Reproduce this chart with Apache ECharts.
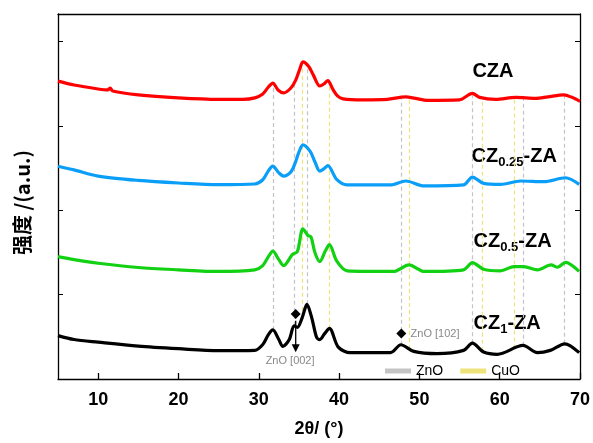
<!DOCTYPE html>
<html>
<head>
<meta charset="utf-8">
<script src="https://cdn.jsdelivr.net/npm/echarts@6/dist/echarts.min.js"></script>
<style>
  html, body { margin: 0; padding: 0; background: #fff; }
  #chart { width: 593px; height: 443px; }
</style>
</head>
<body>
<div id="chart"></div>
<script>
// 2θ / intensity (a.u., offset stacked) pairs
const cza = [
  [5, 302], [7, 298], [10, 294], [11.2, 293], [11.5, 295], [11.8, 292], [15, 288], [20, 285], [25, 283.5],
  [28, 283.5], [29.5, 285], [30.5, 289], [31.2, 296], [31.75, 300], [32.4, 293], [33.1, 290], [34, 295],
  [34.6, 303], [35.1, 314], [35.5, 321.5], [36.2, 317], [36.8, 308], [37.6, 297], [38.1, 299], [38.6, 302.5],
  [39.2, 294], [39.8, 287], [40.5, 284], [43, 283], [46, 283.5], [48.3, 286], [49.5, 284.5], [51, 282.5],
  [55, 283], [56.6, 289.5], [57.5, 285.5], [59.5, 283.5], [62, 285.5], [64.5, 284.5], [66, 286], [68, 288],
  [69, 285.5], [70, 281.5]
];
const cz025 = [
  [5, 215.7], [7, 212], [10, 205.7], [15, 201.3], [20, 198.7], [25, 197], [29.5, 197.7], [30.5, 202],
  [31.2, 211], [31.75, 215.7], [32.5, 209], [33.1, 205.7], [34, 210], [34.5, 218.3], [35.0, 230], [35.5, 237.3],
  [36.4, 230.7], [37, 220], [37.6, 210.7], [38.1, 213], [38.6, 216.3], [39.7, 202.3], [41, 196.7], [46.4, 196.7],
  [48.3, 200.7], [50.6, 195.7], [55.5, 196.7], [56.6, 204.7], [58, 198.3], [60.1, 197.3], [62.6, 200.7],
  [65.5, 200], [68.2, 204], [69.9, 197.3]
];
const cz05 = [
  [5, 124], [7, 121], [10, 117.3], [15, 113], [20, 110.7], [25, 109], [29.5, 110.7], [30.5, 115], [31.2, 124],
  [31.75, 129.7], [32.5, 121], [33.1, 115], [34.2, 126.3], [34.8, 129], [35.5, 152.3], [36.1, 145.7],
  [36.5, 144], [37, 128], [37.6, 119], [38.3, 130], [38.8, 136.3], [39.7, 119.7], [41, 109.7], [46.8, 109],
  [48.7, 115.7], [50.6, 109], [55.5, 110.7], [56.6, 118], [58, 111.3], [60.1, 109.7], [61.8, 114], [63, 114],
  [64.7, 110.7], [66.4, 115.7], [67.2, 113.3], [68.2, 118.3], [69.9, 109]
];
const cz1 = [
  [5, 44], [7, 40], [10, 37.3], [15, 33.3], [20, 30.7], [25, 28.7], [29.5, 29], [30.5, 35], [31.2, 45],
  [31.75, 49.7], [32.5, 40], [33.0, 33], [33.8, 40], [34.4, 54], [34.8, 52.3], [35.4, 62], [36.0, 75.7],
  [36.6, 62], [37.2, 42.3], [37.6, 40], [38.2, 46], [38.8, 51.3], [39.9, 32.3], [41.4, 26.7], [46.4, 26.7],
  [47.7, 34.7], [49.3, 28], [52.2, 25.7], [55.5, 29], [56.6, 36.3], [58, 27.3], [59.7, 25], [62.9, 34],
  [64.7, 26.7], [66.3, 29], [68.1, 35.7], [69.9, 26.7]
];

// reference peak positions (2θ)
const znoRefs = [31.75, 34.4, 36.0, 47.7, 56.6, 62.95, 68.1];
const cuoRefs = [35.4, 38.75, 48.75, 57.8, 61.8];

const xTicks = [10, 20, 30, 40, 50, 60, 70];

const chart = echarts.init(document.getElementById("chart"));

// 线性插值，求参考线两端
const interp = (arr, x) => {
  for (let i = 0; i < arr.length - 1; i++) {
    if (x >= arr[i][0] && x <= arr[i + 1][0]) {
      const t = (x - arr[i][0]) / (arr[i + 1][0] - arr[i][0]);
      return arr[i][1] + t * (arr[i + 1][1] - arr[i][1]);
    }
  }
  return arr[arr.length - 1][1];
};

const refLines = (list) =>
  list.map((x) => [{ coord: [x, interp(cz1, x)] }, { coord: [x, interp(cza, x) - 1] }]);

const curve = (name, data, color) => ({
  name,
  type: "line",
  data,
  smooth: 0.3,
  showSymbol: false,
  z: 5,
  lineStyle: { color, width: 3.2 },
  itemStyle: { color }
});

const refSeries = (name, list, color) => ({
  name,
  type: "line",
  data: [],
  z: 1,
  itemStyle: { color },
  lineStyle: { color },
  markLine: {
    silent: true,
    symbol: ["none", "none"],
    label: { show: false },
    lineStyle: { color, width: 1.2, type: [4, 3] },
    data: refLines(list)
  }
});

const fontEn = "Arial, 'Liberation Sans', sans-serif";

chart.setOption({
  animation: false,
  grid: { left: 58, right: 12, top: 14, bottom: 59 },
  legend: {
    data: ["ZnO", "CuO"],
    left: 385,
    top: 364,
    padding: 0,
    icon: "rect",
    itemWidth: 26,
    itemHeight: 5,
    itemGap: 17,
    textStyle: { fontFamily: fontEn, fontSize: 14, color: "#000" }
  },
  xAxis: [
    {
      type: "value",
      min: 5,
      max: 70,
      name: "2θ/ (°)",
      nameLocation: "middle",
      nameGap: 41,
      nameTextStyle: { fontFamily: fontEn, fontSize: 18, fontWeight: "bold", color: "#000" },
      axisLine: { lineStyle: { color: "#000", width: 1.3 } },
      axisTick: { inside: true, length: 6, customValues: xTicks, lineStyle: { color: "#000", width: 1.3 } },
      axisLabel: { customValues: xTicks, margin: 12, fontFamily: fontEn, fontSize: 18, fontWeight: "bold", color: "#000" },
      splitLine: { show: false }
    },
    {
      type: "value",
      position: "top",
      min: 5,
      max: 70,
      axisLine: { show: true, onZero: false, lineStyle: { color: "#000", width: 1.3 } },
      axisTick: { show: false },
      axisLabel: { show: false },
      splitLine: { show: false }
    }
  ],
  yAxis: [
    {
      type: "value",
      min: 0,
      max: 370,
      interval: 85.5,
      name: "强度 /(a.u.)",
      nameLocation: "middle",
      nameGap: 26,
      nameTextStyle: {
        fontFamily: "'Noto Sans CJK SC', Arial, sans-serif",
        fontSize: 20,
        fontWeight: "bold",
        color: "#000",
        padding: [0, 12, 0, 0]
      },
      axisLine: { show: true, onZero: false, lineStyle: { color: "#000", width: 1.3 } },
      axisTick: { inside: true, length: 5, lineStyle: { color: "#000", width: 1 } },
      axisLabel: { show: false },
      splitLine: { show: false }
    },
    {
      type: "value",
      position: "right",
      min: 0,
      max: 370,
      interval: 85.5,
      axisLine: { show: true, onZero: false, lineStyle: { color: "#000", width: 1.3 } },
      axisTick: { inside: true, length: 5, lineStyle: { color: "#000", width: 1 } },
      axisLabel: { show: false },
      splitLine: { show: false }
    }
  ],
  series: [
    refSeries("ZnO", znoRefs, "#c4c4c4"),
    refSeries("CuO", cuoRefs, "#eee37a"),
    curve("CZA", cza, "#ff0000"),
    curve("CZ0.25-ZA", cz025, "#0a9ef8"),
    curve("CZ0.5-ZA", cz05, "#12d012"),
    curve("CZ1-ZA", cz1, "#000000")
  ]
});

// 文字标注，按数据坐标定位
const px = (p) => chart.convertToPixel({ xAxisIndex: 0, yAxisIndex: 0 }, p);
const rich = {
  a: { fontFamily: fontEn, fontSize: 20, fontWeight: "bold", fill: "#000" },
  s: { fontFamily: fontEn, fontSize: 13, fontWeight: "bold", fill: "#000", padding: [12, 0, 0, 0] }
};
const sampleLabel = (pos, str) => {
  const p = px(pos);
  return { type: "text", x: p[0], y: p[1], style: { text: str, rich, verticalAlign: "middle" } };
};
const d1 = px([34.6, 66]);
const a0 = px([34.6, 59]);
const a1 = px([34.6, 27]);
const d2 = px([47.75, 46]);
const t2 = px([48.9, 46]);
const t1 = px([33.9, 18]);
const grey = { fontFamily: fontEn, fontSize: 11, fill: "#888" };

chart.setOption({
  graphic: [
    sampleLabel([56.6, 312], "{a|CZA}"),
    sampleLabel([56.5, 226], "{a|CZ}{s|0.25}{a|-ZA}"),
    sampleLabel([56.75, 139], "{a|CZ}{s|0.5}{a|-ZA}"),
    sampleLabel([56.75, 56], "{a|CZ}{s|1}{a|-ZA}"),
    { type: "polygon", shape: { points: [[d1[0], d1[1] - 5], [d1[0] + 5, d1[1]], [d1[0], d1[1] + 5], [d1[0] - 5, d1[1]]] }, style: { fill: "#000" }, z: 10 },
    { type: "line", shape: { x1: a0[0], y1: a0[1], x2: a1[0], y2: a1[1] - 6 }, style: { stroke: "#000", lineWidth: 1.3 }, z: 10 },
    { type: "polygon", shape: { points: [[a1[0] - 4, a1[1] - 8], [a1[0] + 4, a1[1] - 8], [a1[0], a1[1]]] }, style: { fill: "#000" }, z: 10 },
    { type: "polygon", shape: { points: [[d2[0], d2[1] - 5], [d2[0] + 5, d2[1]], [d2[0], d2[1] + 5], [d2[0] - 5, d2[1]]] }, style: { fill: "#000" }, z: 10 },
    { type: "text", x: t2[0], y: t2[1], style: Object.assign({ text: "ZnO [102]", verticalAlign: "middle" }, grey), z: 10 },
    { type: "text", x: t1[0], y: t1[1], style: Object.assign({ text: "ZnO [002]", align: "center", verticalAlign: "middle" }, grey), z: 10 }
  ]
});
</script>
</body>
</html>
